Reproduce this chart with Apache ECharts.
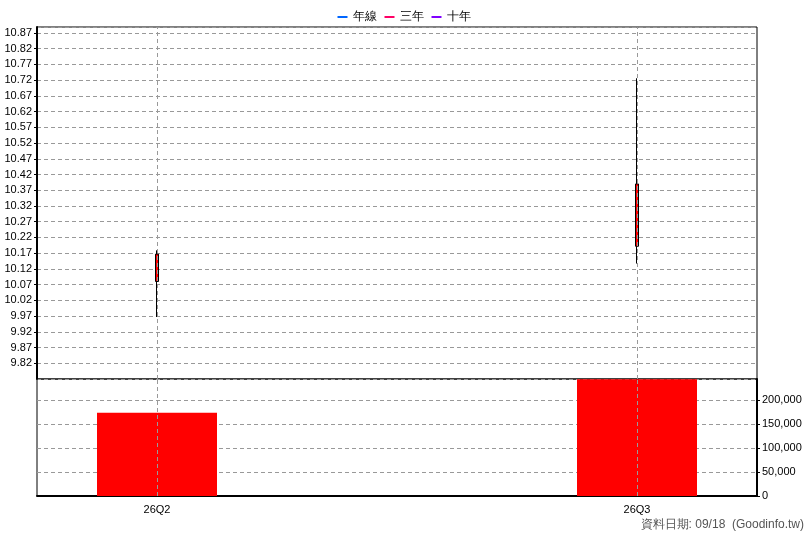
<!DOCTYPE html>
<html><head><meta charset="utf-8">
<script src="https://cdn.jsdelivr.net/npm/echarts@6/dist/echarts.min.js"></script>
<style>html,body{margin:0;padding:0;background:#fff}#c{width:808px;height:540px}</style>
</head><body><div id="c"></div>
<script>
const categories = ['26Q2', '', '26Q3'];
// [open, close, low, high]
const candles = [[10.081, 10.168, 9.968, 10.18], '-', [10.193, 10.391, 10.138, 10.727]];
const volumes = [173500, '-', 243000];
const legendNames = ['年線', '三年', '十年'];
const legendColors = ['#0066ff', '#ff0066', '#8000ff'];
const footer = '資料日期: 09/18  (Goodinfo.tw)';

const chart = echarts.init(document.getElementById('c'));
const font = 'Liberation Sans, Arial, sans-serif';
const vline = {
  silent: true, symbol: 'none', label: {show: false},
  lineStyle: {color: '#999', type: [4, 3], width: 1},
  data: [{xAxis: '26Q2'}, {xAxis: '26Q3'}]
};
chart.setOption({
  animation: false,
  textStyle: {fontFamily: font},
  legend: {
    top: 6, left: 'center', itemGap: 8, itemWidth: 10, itemHeight: 2, icon: 'rect',
    textStyle: {fontSize: 12, color: '#000'},
    data: legendNames
  },
  grid: [
    {left: 37, right: 51, top: 27, bottom: 161, show: true, borderColor: '#000', borderWidth: 1},
    {left: 37, right: 51, top: 379, bottom: 44, show: true, borderColor: '#000', borderWidth: 1}
  ],
  xAxis: [
    {type: 'category', gridIndex: 0, data: categories, axisLabel: {show: false},
     axisTick: {show: false}, axisLine: {show: false}, splitLine: {show: false}},
    {type: 'category', gridIndex: 1, data: categories,
     axisLine: {lineStyle: {color: '#000', width: 2}},
     axisTick: {alignWithLabel: true, length: 5, lineStyle: {color: '#555'}, interval: (i, v) => v !== ''},
     axisLabel: {color: '#000', fontSize: 11, margin: 8, interval: 0},
     splitLine: {show: false}}
  ],
  yAxis: [
    {type: 'value', gridIndex: 0, position: 'left', min: 9.771, max: 10.89, interval: 0.05,
     axisLine: {show: true, lineStyle: {color: '#000', width: 2}},
     axisTick: {show: true, length: 3, lineStyle: {color: '#000'}},
     axisLabel: {color: '#000', fontSize: 11, margin: 5, showMinLabel: false, showMaxLabel: false,
       formatter: v => String(parseFloat(v.toFixed(2)))},
     splitLine: {show: true, lineStyle: {color: '#999', type: [4, 3]}}},
    {type: 'value', gridIndex: 1, position: 'right', min: 0, max: 243750, interval: 50000,
     axisLine: {show: true, lineStyle: {color: '#000', width: 2}},
     axisTick: {show: true, length: 3, lineStyle: {color: '#000'}},
     axisLabel: {color: '#000', fontSize: 11, margin: 5, showMaxLabel: false,
       formatter: v => v.toLocaleString('en-US')},
     splitLine: {show: true, lineStyle: {color: '#999', type: [4, 3]}}}
  ],
  series: [
    {type: 'candlestick', xAxisIndex: 0, yAxisIndex: 0, data: candles, barWidth: 4,
     itemStyle: {color: '#ff0000', color0: '#00aa00', borderColor: '#000', borderColor0: '#000', borderWidth: 1},
     markLine: vline},
    {type: 'bar', xAxisIndex: 1, yAxisIndex: 1, data: volumes, barWidth: 120,
     itemStyle: {color: '#ff0000'}, markLine: vline},
    ...legendNames.map((n, i) => ({name: n, type: 'line', data: [], color: legendColors[i], xAxisIndex: 0, yAxisIndex: 0}))
  ],
  graphic: [{type: 'text', right: 4, top: 519,
    style: {text: footer, fill: '#555', font: '12px ' + font}}]
});
</script></body></html>
